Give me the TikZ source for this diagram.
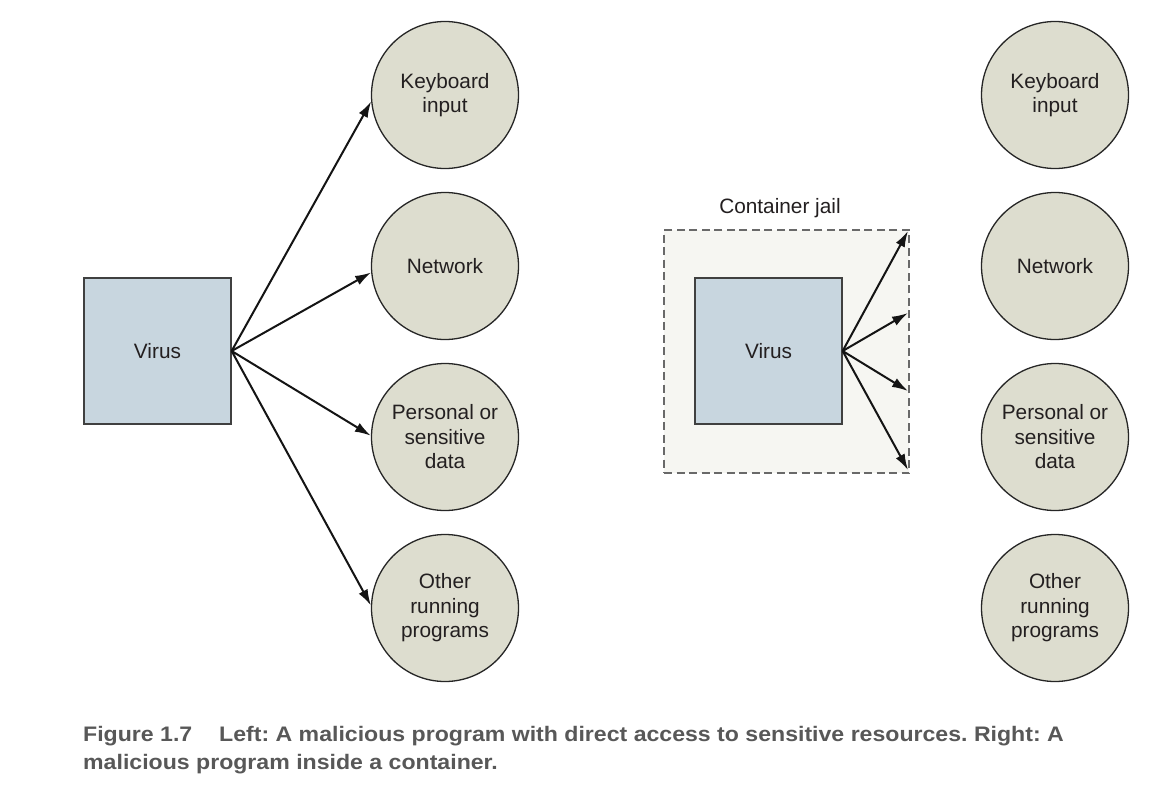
\documentclass[tikz,border=0pt]{standalone}
\usepackage{fontspec}
\setmainfont{Liberation Sans}
\newfontfamily\capfont[FakeStretch=1.1]{Liberation Sans}
\usetikzlibrary{arrows.meta}
\definecolor{circfill}{RGB}{221,221,207}
\definecolor{boxfill}{RGB}{200,214,223}
\definecolor{jailfill}{RGB}{246,246,242}
\definecolor{dashgray}{RGB}{105,105,105}
\definecolor{txt}{RGB}{35,31,32}
\definecolor{capgray}{RGB}{88,88,88}
\newcommand{\nodefont}{\fontsize{20.8}{24.5}\selectfont}
\frenchspacing
\begin{document}
\begin{tikzpicture}[x=1pt,y=-1pt,
  res/.style={circle, draw=black!85, line width=1.3pt, fill=circfill, minimum size=147pt, inner sep=0pt, align=center, font=\nodefont, text=txt},
  virusbox/.style={rectangle, draw=black!75, line width=1.3pt, fill=boxfill, minimum width=147pt, minimum height=146pt, inner sep=0pt, font=\nodefont, text=txt},
  jail/.style={rectangle, draw=dashgray, dash pattern=on 8pt off 4.5pt, line width=2pt, fill=jailfill, minimum width=245pt, minimum height=243pt, inner sep=0pt},
  arr/.style={-{Latex[length=16pt,width=10pt]}, line width=2pt, draw=black!92},
  lbl/.style={font=\nodefont, text=txt, inner sep=0pt},
  captxt/.style={font=\capfont\bfseries\fontsize{21}{24}\selectfont, text=capgray, inner sep=0pt, anchor=base west}
]
\useasboundingbox[fill=white] (0,0) rectangle (1175,803);

% left side
\node[virusbox] (v1) at (157.5,351) {Virus};
\node[res] (kb1) at (445,95) {Keyboard\\input};
\node[res] (net1) at (445,266) {Network};
\node[res] (pd1) at (445,437) {Personal or\\sensitive\\data};
\node[res] (orp1) at (445,608) {Other\\running\\programs};

\draw[arr] (v1.east) -- (kb1.185);
\draw[arr] (v1.east) -- (net1.185);
\draw[arr] (v1.east) -- (pd1.179);
\draw[arr] (v1.east) -- (orp1.178);

% right side
\node[jail] (jb) at (786.5,351.5) {};
\node[lbl, anchor=base] (jl) at (780,213) {Container jail};
\node[virusbox] (v2) at (768.5,351) {Virus};
\node[res] (kb2) at (1055,95) {Keyboard\\input};
\node[res] (net2) at (1055,266) {Network};
\node[res] (pd2) at (1055,437) {Personal or\\sensitive\\data};
\node[res] (orp2) at (1055,608) {Other\\running\\programs};

\coordinate (c1) at (908,231);
\coordinate (c2) at (908,313);
\coordinate (c3) at (908,391);
\coordinate (c4) at (908,470);
\draw[arr] (v2.east) -- (c1);
\draw[arr] (v2.east) -- (c2);
\draw[arr] (v2.east) -- (c3);
\draw[arr] (v2.east) -- (c4);

% caption
\node[captxt] (cap1) at (83,741) {Figure 1.7};
\node[captxt] (cap2) at (219,741) {Left: A malicious program with direct access to sensitive resources. Right: A};
\node[captxt] (cap3) at (83,769) {malicious program inside a container.};
\end{tikzpicture}
\end{document}
